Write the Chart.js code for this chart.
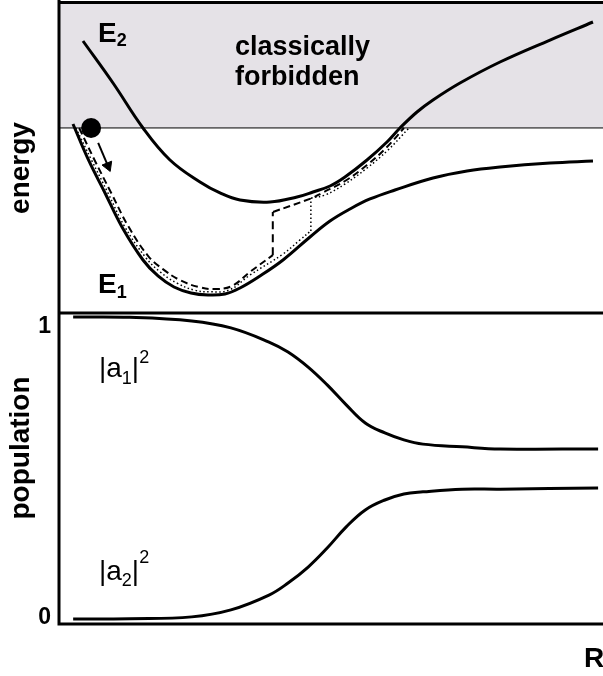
<!DOCTYPE html>
<html><head><meta charset="utf-8">
<script src="https://cdn.jsdelivr.net/npm/chart.js@4"></script>
<style>
html,body{margin:0;padding:0;background:#fff;width:603px;height:676px;overflow:hidden}
canvas{position:absolute;left:0;top:0}
</style></head><body>
<canvas id="bot" width="603" height="676"></canvas>
<canvas id="top" width="603" height="676"></canvas>
<script>
// ---- data (R in arbitrary units 0..10, energy 0..10, population 0..1) ----
const forbiddenEnergy = 5.95;

const E2_R = [0.441, 0.993, 1.544, 2.040, 2.592, 2.960, 3.327, 3.879, 4.375, 4.669, 4.982, 5.257, 5.662, 6.029, 6.268, 6.581, 6.875, 7.371, 8.107, 9.026, 9.816];
const E2_E = [8.746, 7.395, 5.949, 4.920, 4.212, 3.859, 3.633, 3.569, 3.730, 3.891, 4.084, 4.373, 4.920, 5.498, 5.949, 6.463, 6.849, 7.395, 8.071, 8.778, 9.357];

const E1_R = [0.257, 0.542, 0.846, 1.158, 1.544, 1.820, 2.114, 2.426, 2.739, 3.051, 3.327, 3.695, 4.118, 4.614, 4.982, 5.349, 5.717, 6.176, 6.875, 7.500, 8.107, 9.026, 9.816];
const E1_E = [6.077, 4.920, 3.859, 2.765, 1.704, 1.190, 0.836, 0.643, 0.579, 0.611, 0.804, 1.190, 1.704, 2.444, 2.958, 3.344, 3.666, 3.955, 4.341, 4.566, 4.695, 4.823, 4.887];

// dashed trajectory (hop at R = 3.93)
const dashLow_R = [0.37, 0.653, 0.96, 1.27, 1.64, 1.91, 2.22, 2.56, 2.87, 3.18, 3.51, 3.93];
const dashLow_E = [5.95, 4.920, 3.86, 2.80, 1.83, 1.41, 1.06, 0.84, 0.77, 0.87, 1.32, 1.86];
const dashHop_R = [3.93, 3.93];
const dashHop_E = [1.86, 3.25];
const dashUp_R = [3.934, 4.651, 4.835, 5.257, 5.662, 6.029, 6.342];
const dashUp_E = [3.248, 3.698, 3.859, 4.244, 4.759, 5.338, 5.949];

// dotted trajectory (hop at R = 4.63)
const dotLow_R = [0.31, 0.597, 0.90, 1.21, 1.60, 1.86, 2.17, 2.48, 2.79, 3.13, 3.51, 4.12, 4.43, 4.63];
const dotLow_E = [5.95, 4.920, 3.86, 2.77, 1.77, 1.32, 0.96, 0.74, 0.68, 0.74, 1.22, 1.90, 2.35, 2.64];
const dotHop_R = [4.63, 4.63];
const dotHop_E = [2.64, 3.70];
const dotUp_R = [4.632, 4.890, 5.257, 5.662, 6.048, 6.434];
const dotUp_E = [3.698, 3.794, 4.148, 4.662, 5.241, 5.949];

const ball_R = [0.59];
const ball_E = [5.95];
const arrow_R = [0.72, 0.90];
const arrow_E = [5.47, 4.73];

// population
const P_R = [0.26, 1.30, 2.44, 3.16, 3.86, 4.21, 4.58, 4.93, 5.28, 5.63, 5.99, 6.34, 6.69, 7.41, 8.11, 9.91];
const A1  = [1.000, 0.999, 0.987, 0.964, 0.917, 0.884, 0.834, 0.775, 0.709, 0.649, 0.616, 0.593, 0.579, 0.570, 0.563, 0.563];
const A2  = [0.000, 0.001, 0.007, 0.030, 0.079, 0.119, 0.172, 0.235, 0.305, 0.361, 0.394, 0.414, 0.421, 0.430, 0.430, 0.434];

const popTicks = [0, 1];
const popTickLabels = ['0', '1'];

// ---- helpers ----
const pts = (xs, ys) => xs.map((x, i) => ({x, y: ys[i]}));
const FONT = '"Liberation Sans", Arial, Helvetica, sans-serif';
const SHADE = 'rgb(229,226,231)';

function rich(ctx, x, y, parts) {
  let cx = x;
  for (const p of parts) {
    ctx.font = p.f;
    ctx.fillText(p.t, cx, y + (p.dy || 0));
    cx += ctx.measureText(p.t).width + (p.gap || 0);
  }
}

Chart.defaults.animation = false;
Chart.defaults.responsive = false;
Chart.defaults.devicePixelRatio = 1;
Chart.defaults.plugins.legend.display = false;
Chart.defaults.plugins.tooltip.enabled = false;

const solid = (data) => ({data, borderColor: '#000', borderWidth: 3, pointRadius: 0,
  fill: false, tension: 0.4, order: 1});

// ---- top chart: energy ----
const topPlugin = {
  id: 'topDeco',
  afterDatasetsDraw(chart) {
    const {ctx, chartArea: a} = chart;
    ctx.save();
    ctx.strokeStyle = '#000';
    ctx.lineWidth = 3;
    ctx.beginPath();
    ctx.moveTo(a.left, a.top + 0.5); ctx.lineTo(a.right, a.top + 0.5);
    ctx.moveTo(a.left, 0); ctx.lineTo(a.left, a.bottom);
    ctx.moveTo(a.left, a.bottom); ctx.lineTo(a.right, a.bottom);
    ctx.stroke();

    ctx.fillStyle = '#000';
    ctx.textBaseline = 'alphabetic';
    ctx.textAlign = 'left';
    ctx.font = 'bold 27px ' + FONT;
    ctx.fillText('classically', 235, 55);
    ctx.fillText('forbidden', 235, 85);

    rich(ctx, 98, 42, [{t: 'E', f: 'bold 28px ' + FONT}, {t: '2', f: 'bold 18px ' + FONT, dy: 4}]);
    rich(ctx, 98, 293, [{t: 'E', f: 'bold 28px ' + FONT}, {t: '1', f: 'bold 18px ' + FONT, dy: 5}]);

    ctx.translate(29, 168);
    ctx.rotate(-Math.PI / 2);
    ctx.textAlign = 'center';
    ctx.font = 'bold 28px ' + FONT;
    ctx.fillText('energy', 0, 0);
    ctx.restore();
  }
};

new Chart(document.getElementById('top'), {
  type: 'line',
  data: {
    datasets: [
      solid(pts(E2_R, E2_E)),
      solid(pts(E1_R, E1_E)),
      {data: pts(dashLow_R, dashLow_E), borderColor: '#000', borderWidth: 2, borderDash: [7, 4], pointRadius: 0, tension: 0.4, order: 2},
      {data: pts(dashHop_R, dashHop_E), borderColor: '#000', borderWidth: 2, borderDash: [8, 5], pointRadius: 0, tension: 0, order: 2},
      {data: pts(dashUp_R, dashUp_E), borderColor: '#000', borderWidth: 2, borderDash: [7, 4], pointRadius: 0, tension: 0.4, order: 2},
      {data: pts(dotLow_R, dotLow_E), borderColor: '#000', borderWidth: 1.5, borderDash: [1.5, 2.5], pointRadius: 0, tension: 0.4, order: 2},
      {data: pts(dotHop_R, dotHop_E), borderColor: '#000', borderWidth: 1.5, borderDash: [1.5, 2.5], pointRadius: 0, tension: 0, order: 2},
      {data: pts(dotUp_R, dotUp_E), borderColor: '#000', borderWidth: 1.5, borderDash: [1.5, 2.5], pointRadius: 0, tension: 0.4, order: 2},
      {data: pts(arrow_R, arrow_E), borderColor: '#000', borderWidth: 2, pointRadius: [0, 6],
        pointStyle: 'triangle', rotation: 158, pointBackgroundColor: '#000', pointBorderColor: '#000', pointBorderWidth: 1, tension: 0, order: 0},
      {data: pts(ball_R, ball_E), showLine: false, pointRadius: 10, pointBackgroundColor: '#000', pointBorderColor: '#000', pointBorderWidth: 0, order: 0},
      {data: [{x: 0, y: forbiddenEnergy}, {x: 10, y: forbiddenEnergy}], borderColor: '#000', borderWidth: 1,
        pointRadius: 0, fill: 'end', backgroundColor: SHADE, tension: 0, order: 10}
    ]
  },
  options: {
    layout: {autoPadding: false, padding: {left: 59, top: 2, right: 0, bottom: 363}},
    scales: {
      x: {type: 'linear', min: 0, max: 10, display: false},
      y: {type: 'linear', min: 0, max: 10, display: false}
    },
    plugins: {legend: {display: false}}
  },
  plugins: [topPlugin]
});

// ---- bottom chart: population ----
const botPlugin = {
  id: 'botDeco',
  afterDatasetsDraw(chart) {
    const {ctx, chartArea: a, scales} = chart;
    ctx.save();
    ctx.strokeStyle = '#000';
    ctx.lineWidth = 3;
    ctx.beginPath();
    ctx.moveTo(a.left, a.top); ctx.lineTo(a.left, a.bottom + 1.5);
    ctx.moveTo(a.left, a.bottom); ctx.lineTo(a.right, a.bottom);
    ctx.stroke();

    ctx.fillStyle = '#000';
    ctx.textAlign = 'right';
    ctx.textBaseline = 'alphabetic';
    ctx.font = 'bold 23px ' + FONT;
    popTicks.forEach((v, i) => {
      const py = scales.y.getPixelForValue(v);
      ctx.fillText(popTickLabels[i], 51, v === 1 ? py + 16 : py + 5);
    });

    ctx.textAlign = 'left';
    const reg = (s) => s + 'px ' + FONT;
    rich(ctx, 99, 377, [{t: '|', f: reg(28)}, {t: 'a', f: reg(28)}, {t: '1', f: reg(18), dy: 7}, {t: '|', f: reg(28)}, {t: '2', f: reg(18), dy: -14}]);
    rich(ctx, 99, 580, [{t: '|', f: reg(28)}, {t: 'a', f: reg(28)}, {t: '2', f: reg(18), dy: 6}, {t: '|', f: reg(28)}, {t: '2', f: reg(18), dy: -17}]);

    ctx.font = 'bold 28px ' + FONT;
    ctx.fillText('R', 584, 667);

    ctx.translate(29, 448);
    ctx.rotate(-Math.PI / 2);
    ctx.textAlign = 'center';
    ctx.fillText('population', 0, 0);
    ctx.restore();
  }
};

new Chart(document.getElementById('bot'), {
  type: 'line',
  data: {
    datasets: [
      solid(pts(P_R, A1)),
      solid(pts(P_R, A2))
    ]
  },
  options: {
    layout: {autoPadding: false, padding: {left: 59, top: 313, right: 0, bottom: 52}},
    scales: {
      x: {type: 'linear', min: 0, max: 10, display: false},
      y: {type: 'linear', min: -0.0166, max: 1.0132, display: false}
    }
  },
  plugins: [botPlugin]
});
</script>
</body></html>
